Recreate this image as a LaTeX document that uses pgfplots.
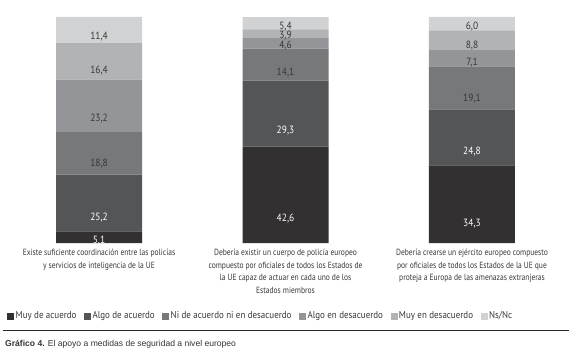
\documentclass[border=0pt]{standalone}
\usepackage{pgfplots}
\pgfplotsset{compat=1.18}
\usepackage{pgfplotstable}
\usepackage{fontspec}
\setmainfont{PT Sans}
\newfontfamily\cond[FakeStretch=0.84]{PT Sans}
\newfontfamily\valfont[FakeStretch=0.9]{PT Sans}
\newfontfamily\legfont[FakeStretch=0.9]{PT Sans}
\newfontfamily\capfont{Liberation Sans}
\definecolor{c1}{RGB}{50,48,49}
\definecolor{c2}{RGB}{84,85,87}
\definecolor{c3}{RGB}{118,120,122}
\definecolor{c4}{RGB}{147,149,152}
\definecolor{c5}{RGB}{177,179,181}
\definecolor{c6}{RGB}{209,210,211}
\definecolor{txt}{RGB}{55,55,55}
\pgfplotstableread{
x a b c d e f
0 5.1 25.2 18.8 23.2 16.4 11.4
1 42.6 29.3 14.1 4.6 3.9 5.4
2 34.3 24.8 19.1 7.1 8.8 6.0
}\data
\pgfplotsset{
  seg/.style n args={3}{
    fill=#2, draw=none,
    visualization depends on={\thisrow{#1} \as \rawv},
    nodes near coords={\valfont\fontsize{10.5}{11}\selectfont\pgfmathprintnumber[fixed,fixed zerofill,precision=1,use comma,assume math mode=true]{\rawv}},
    every node near coord/.style={anchor=center, yshift={-\rawv*0.565bp}, text=#3, inner sep=0pt},
    legend image code/.code={\fill[##1,draw=none] (0bp,-3.5bp) rectangle (7bp,3.5bp);},
  }
}
\begin{document}
\begin{tikzpicture}
\path[use as bounding box] (-56bp,-121bp) rectangle (524bp,243bp);
\begin{axis}[
  at={(0,0)}, anchor=south west,
  scale only axis, width=459bp, height=226bp,
  ybar stacked, bar width=86bp,
  xmin=-0.2306, xmax=2.2306, ymin=0, ymax=100,
  clip=false,
  axis line style={draw=none},
  major tick length=0pt,
  ytick=\empty,
  xtick={0,1,2},
  xticklabels={{Existe suficiente coordinación entre las policías\\y servicios de inteligencia de la UE},
    {Debería existir un cuerpo de policía europeo\\compuesto por oficiales de todos los Estados de\\la UE capaz de actuar en cada uno de los\\Estados miembros},
    {Debería crearse un ejército europeo compuesto\\por oficiales de todos los Estados de la UE que\\proteja a Europa de las amenazas extranjeras}},
  xticklabel style={align=center, anchor=north, font=\cond\fontsize{9}{12.4}\selectfont, text=txt, yshift=-3bp},
  legend columns=6,
  legend style={at={(0,0)}, anchor=west, xshift=-49bp, yshift=-73bp, draw=none, fill=none, inner sep=0pt,
    font=\legfont\fontsize{10}{11}\selectfont, text=txt,
    /tikz/every even column/.append style={column sep=6bp},
    nodes={inner sep=1.5bp}},
]
\addplot[seg={a}{c1}{white}] table[x=x,y=a]{\data};
\addplot[seg={b}{c2}{white}] table[x=x,y=b]{\data};
\addplot[seg={c}{c3}{txt}] table[x=x,y=c]{\data};
\addplot[seg={d}{c4}{txt}] table[x=x,y=d]{\data};
\addplot[seg={e}{c5}{txt}] table[x=x,y=e]{\data};
\addplot[seg={f}{c6}{txt}] table[x=x,y=f]{\data};
\legend{Muy de acuerdo, Algo de acuerdo, Ni de acuerdo ni en desacuerdo, Algo en desacuerdo, Muy en desacuerdo, Ns/Nc}
\end{axis}
\draw[line width=0.8bp, black!85] (-53bp,-87bp) -- (513bp,-87bp);
\node[anchor=west, inner sep=0pt, font=\capfont\fontsize{8.6}{10}\selectfont, text=black!80] at (-51bp,-101bp) {\textbf{Gráfico 4.} El apoyo a medidas de seguridad a nivel europeo};
\end{tikzpicture}
\end{document}
